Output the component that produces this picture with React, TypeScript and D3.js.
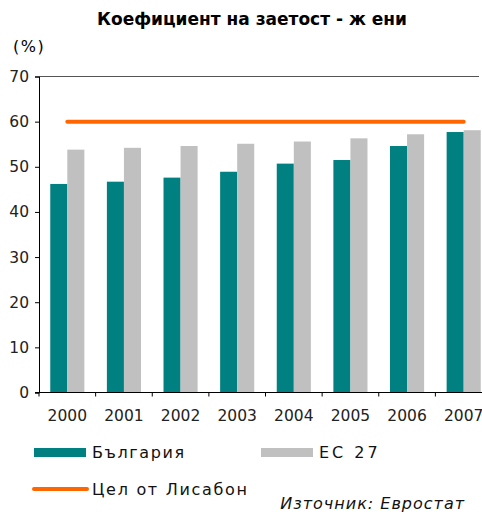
import React, { useRef, useEffect } from "react";
import * as d3 from "d3";

const years = ["2000", "2001", "2002", "2003", "2004", "2005", "2006", "2007"];
const bulgaria = [46.2, 46.7, 47.6, 48.9, 50.7, 51.5, 54.6, 57.7];
const eu27 = [53.8, 54.2, 54.6, 55.1, 55.6, 56.3, 57.2, 58.1];
const lisbon = [60, 60, 60, 60, 60, 60, 60, 60];
const yTicks = [0, 10, 20, 30, 40, 50, 60, 70];

const TEAL = "#008080";
const GRAY = "#c0c0c0";
const ORANGE = "#ff6600";
const FONT = "DejaVu Sans, Verdana, sans-serif";

const App = () => {
  const svgRef = useRef<SVGSVGElement>(null);

  useEffect(() => {
    const W = 482;
    const H = 517;
    const left = 39;
    const right = 492;
    const top = 76.5;
    const bottom = 392.5;

    const svg = d3.select(svgRef.current).attr("width", W).attr("height", H);
    svg.selectAll("*").remove();

    const x0 = d3.scaleBand().domain(years).range([left, right]);
    const x1 = d3
      .scaleBand()
      .domain(["bg", "eu"])
      .range([0, x0.bandwidth()])
      .paddingOuter(0.66);
    const y = d3.scaleLinear().domain([0, 70]).range([bottom, top]);

    // title
    svg
      .append("text")
      .attr("x", 252)
      .attr("y", 25)
      .attr("text-anchor", "middle")
      .attr("font-family", FONT)
      .attr("font-weight", "bold")
      .attr("font-size", 17)
      .text("Коефициент на заетост - ж ени");

    svg
      .append("text")
      .attr("x", 13)
      .attr("y", 52)
      .attr("font-family", FONT)
      .attr("font-size", 16)
      .attr("letter-spacing", 1.5)
      .text("(%)");

    // top border
    svg
      .append("line")
      .attr("x1", left)
      .attr("x2", 479)
      .attr("y1", top)
      .attr("y2", top)
      .attr("stroke", "#555");

    const g = svg.append("g");

    g.selectAll("rect.bg")
      .data(bulgaria)
      .enter()
      .append("rect")
      .attr("class", "bg")
      .attr("x", (d, i) => x0(years[i])! + x1("bg")!)
      .attr("width", x1.bandwidth())
      .attr("y", (d) => y(d))
      .attr("height", (d) => y(0) - y(d))
      .attr("fill", TEAL);

    g.selectAll("rect.eu")
      .data(eu27)
      .enter()
      .append("rect")
      .attr("class", "eu")
      .attr("x", (d, i) => x0(years[i])! + x1("eu")!)
      .attr("width", x1.bandwidth())
      .attr("y", (d) => y(d))
      .attr("height", (d) => y(0) - y(d))
      .attr("fill", GRAY);

    g.append("path")
      .datum(lisbon)
      .attr("fill", "none")
      .attr("stroke", ORANGE)
      .attr("stroke-width", 4)
      .attr("stroke-linecap", "round")
      .attr(
        "d",
        d3
          .line<number>()
          .x((d, i) => x0(years[i])! + x0.bandwidth() / 2)
          .y((d) => y(d))
      );

    // y axis
    const yAxis = svg
      .append("g")
      .attr("transform", `translate(${left},0)`)
      .call(d3.axisLeft(y).tickValues(yTicks).tickSize(4).tickPadding(6));
    yAxis.select(".domain").attr("stroke", "#000");
    yAxis
      .selectAll("text")
      .attr("font-family", FONT)
      .attr("font-size", 15.5)
      .attr("fill", "#222");

    // x axis
    const xAxis = svg.append("g").attr("transform", `translate(0,${bottom})`);
    xAxis
      .append("line")
      .attr("x1", left - 4)
      .attr("x2", right)
      .attr("stroke", "#000");
    xAxis
      .selectAll("line.tick")
      .data(years)
      .enter()
      .append("line")
      .attr("class", "tick")
      .attr("x1", (d) => x0(d)!)
      .attr("x2", (d) => x0(d)!)
      .attr("y2", 4)
      .attr("stroke", "#000");
    xAxis
      .selectAll("text")
      .data(years)
      .enter()
      .append("text")
      .attr("x", (d) => x0(d)! + x0.bandwidth() / 2)
      .attr("y", 28)
      .attr("text-anchor", "middle")
      .attr("font-family", FONT)
      .attr("font-size", 15.5)
      .attr("fill", "#222")
      .text((d) => d);

    // legend
    const lg = svg.append("g").attr("font-family", FONT).attr("font-size", 16).attr("fill", "#111");
    lg.append("rect").attr("x", 34).attr("y", 448).attr("width", 52).attr("height", 9).attr("fill", TEAL);
    lg.append("text").attr("x", 92).attr("y", 458).attr("letter-spacing", 1.6).text("България");
    lg.append("rect").attr("x", 261).attr("y", 448).attr("width", 52).attr("height", 9).attr("fill", GRAY);
    lg.append("text").attr("x", 319).attr("y", 458).attr("letter-spacing", 3).text("ЕС 27");
    lg.append("line").attr("x1", 34).attr("x2", 87).attr("y1", 489).attr("y2", 489).attr("stroke", ORANGE).attr("stroke-width", 4).attr("stroke-linecap", "round");
    lg.append("text").attr("x", 92).attr("y", 495).attr("letter-spacing", 1.7).text("Цел от Лисабон");

    svg
      .append("text")
      .attr("x", 465)
      .attr("y", 509)
      .attr("text-anchor", "end")
      .attr("font-family", FONT)
      .attr("font-style", "italic")
      .attr("font-size", 16)
      .attr("letter-spacing", 1)
      .attr("fill", "#111")
      .text("Източник: Евростат");
  }, []);

  return (
    <svg
      ref={svgRef}
      style={{ position: "absolute", left: 0, top: 0, display: "block", background: "#fff" }}
    ></svg>
  );
};

export default App;
